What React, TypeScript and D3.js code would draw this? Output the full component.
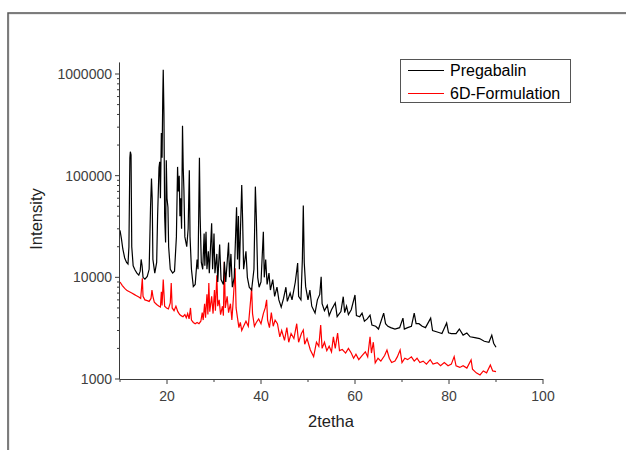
import React from "react";
import * as d3 from "d3";

// Pregabalin pattern: [2theta, intensity]
const pregabalin: [number, number][] = [
  [10.0, 29000], [10.3, 24000], [10.6, 19000], [11.0, 15500], [11.4, 14000], [11.7, 13500],
  [11.9, 20000], [12.1, 150000], [12.2, 172000], [12.35, 160000], [12.5, 20000], [12.8, 13000],
  [13.2, 11800], [13.6, 11000], [14.0, 10500], [14.3, 11500], [14.5, 15000], [14.7, 13000],
  [14.9, 10000], [15.3, 9600], [15.8, 10200], [16.2, 12000], [16.5, 50000], [16.7, 94000],
  [16.85, 60000], [17.0, 15000], [17.4, 11000], [17.8, 14000], [18.0, 40000], [18.3, 120000],
  [18.45, 137000], [18.6, 60000], [18.8, 263000], [18.95, 150000], [19.1, 600000], [19.2, 1100000],
  [19.35, 400000], [19.5, 40000], [19.7, 22000], [19.85, 142000], [20.0, 60000], [20.2, 49000],
  [20.35, 20000], [20.7, 12000], [21.2, 11000], [21.6, 11500], [22.0, 25000], [22.25, 122000],
  [22.4, 70000], [22.6, 100000], [22.75, 40000], [22.9, 60000], [23.1, 30000], [23.3, 310000],
  [23.45, 120000], [23.6, 72000], [23.8, 25000], [24.2, 20000], [24.5, 30000], [24.75, 113000],
  [24.9, 25000], [25.2, 12000], [25.6, 8100], [26.0, 8500], [26.4, 15000], [26.6, 12000],
  [26.9, 150000], [27.05, 40000], [27.3, 14000], [27.6, 12000], [27.9, 27000], [28.05, 13000],
  [28.3, 28000], [28.5, 12000], [28.8, 18000], [29.0, 11000], [29.5, 34000], [29.7, 12000],
  [30.0, 27000], [30.2, 11000], [30.6, 17000], [30.8, 9000], [31.2, 21000], [31.5, 9500],
  [32.0, 8500], [32.2, 14200], [32.5, 9000], [33.1, 22000], [33.3, 10000], [33.6, 17000],
  [33.9, 8000], [34.3, 10000], [34.8, 49000], [35.0, 15000], [35.2, 40000], [35.4, 12000],
  [35.9, 81000], [36.1, 35000], [36.3, 12000], [36.8, 18000], [37.1, 10000], [37.5, 8000],
  [38.0, 7500], [38.5, 12000], [38.8, 78000], [39.0, 40000], [39.3, 10000], [39.6, 8000],
  [40.0, 9000], [40.5, 28000], [40.7, 10000], [41.0, 15000], [41.3, 8500], [41.7, 11000],
  [42.0, 7500], [42.5, 9500], [42.9, 6500], [43.4, 8000], [43.8, 6000], [44.3, 5100],
  [44.8, 6200], [45.3, 8000], [45.6, 5800], [46.2, 7000], [46.6, 6000], [47.3, 9000],
  [47.8, 13800], [48.0, 6500], [48.5, 6000], [48.8, 15000], [49.0, 51000], [49.2, 14000],
  [49.5, 8100], [50.0, 6000], [50.4, 7500], [50.8, 5200], [51.5, 4450], [52.0, 6000],
  [52.5, 6800], [52.8, 10100], [53.0, 5500], [53.5, 4700], [54.1, 5300], [54.5, 4200],
  [55.0, 4800], [55.8, 5600], [56.2, 4100], [57.0, 4600], [57.5, 6450], [57.8, 4500],
  [58.2, 5200], [58.6, 4300], [59.2, 4800], [60.0, 6700], [60.3, 4200], [61.0, 4100],
  [61.5, 4450], [62.0, 3700], [62.6, 3900], [63.2, 4250], [63.6, 3400], [64.4, 3300],
  [65.0, 3100], [66.1, 4450], [66.5, 3500], [67.0, 3300], [67.6, 3200], [68.5, 3100],
  [69.5, 3200], [70.2, 3970], [70.5, 3100], [71.2, 3200], [72.0, 3300], [72.6, 4450],
  [73.0, 3500], [73.6, 3500], [74.3, 3300], [75.0, 3200], [76.1, 3970], [76.5, 3000],
  [77.5, 2900], [78.5, 2800], [79.5, 3550], [79.9, 2850], [80.5, 2800], [81.5, 2800],
  [82.2, 3100], [83.0, 2700], [83.8, 2830], [84.5, 2600], [85.5, 2550], [86.5, 2500],
  [87.5, 2350], [88.5, 2300], [89.1, 2700], [89.5, 2250], [90.0, 2050],
];

// 6D-Formulation pattern: [2theta, intensity]
const formulation: [number, number][] = [
  [10.0, 9000], [10.5, 8300], [11.0, 7800], [11.5, 7400], [12.0, 7200], [12.5, 7000],
  [13.0, 6800], [13.5, 6600], [14.0, 6400], [14.4, 6200], [14.6, 8000], [14.75, 9800],
  [14.9, 6500], [15.3, 6000], [15.8, 5900], [16.2, 5800], [16.6, 6200], [16.8, 7500],
  [17.0, 6500], [17.3, 5700], [17.8, 5400], [18.3, 5200], [18.6, 5100], [18.8, 7200],
  [18.95, 5300], [19.2, 9500], [19.5, 5200], [19.9, 5000], [20.3, 4900], [20.7, 5600],
  [20.9, 8800], [21.1, 5000], [21.5, 4700], [21.9, 5200], [22.3, 4600], [22.7, 4300],
  [23.0, 4200], [23.4, 4100], [23.8, 4300], [24.1, 4000], [24.4, 4400], [24.7, 3900],
  [25.0, 5000], [25.2, 3800], [25.6, 3600], [26.0, 3500], [26.4, 3600], [26.8, 3500],
  [27.2, 3700], [27.5, 4500], [27.7, 3800], [28.0, 5500], [28.2, 4000], [28.5, 6800],
  [28.7, 4300], [28.9, 8800], [29.1, 4600], [29.5, 6500], [29.8, 4400], [30.1, 7500],
  [30.3, 4700], [30.6, 10500], [30.8, 5200], [31.1, 6000], [31.4, 4300], [31.8, 5200],
  [32.0, 4200], [32.2, 14200], [32.4, 5000], [32.8, 6500], [33.1, 4500], [33.5, 5500],
  [33.8, 3800], [34.1, 6000], [34.5, 12300], [34.7, 5000], [35.0, 4000], [35.3, 3200],
  [35.6, 3600], [35.9, 3000], [36.3, 3300], [36.8, 3700], [37.3, 3300], [37.8, 6000],
  [38.0, 7900], [38.2, 4400], [38.6, 3300], [39.0, 3600], [39.5, 3900], [40.0, 3500],
  [40.5, 4400], [40.9, 5000], [41.2, 6000], [41.4, 3800], [41.8, 3200], [42.2, 4500],
  [42.6, 3300], [43.0, 3800], [43.5, 3500], [44.0, 2600], [44.4, 3000], [45.0, 2400],
  [45.5, 3200], [45.9, 2300], [46.4, 2800], [47.0, 2500], [47.6, 3500], [48.0, 2300],
  [48.6, 2800], [49.0, 3030], [49.3, 2200], [49.8, 2500], [50.5, 1930], [51.2, 1660],
  [51.8, 2300], [52.3, 2100], [52.7, 3400], [53.0, 2000], [53.5, 2300], [54.0, 1900],
  [54.5, 2100], [55.0, 1850], [55.4, 2600], [55.8, 2000], [56.3, 2830], [56.7, 1900],
  [57.3, 1950], [58.0, 1800], [58.6, 2000], [59.2, 1800], [59.7, 1600], [60.2, 1750],
  [60.8, 1550], [61.5, 1700], [62.2, 1850], [62.7, 1650], [63.2, 2600], [63.5, 1800],
  [63.9, 2300], [64.3, 1440], [64.9, 1600], [65.5, 1500], [66.3, 1700], [66.8, 1930],
  [67.3, 1600], [67.8, 1450], [68.5, 1500], [69.0, 1650], [69.6, 1930], [70.0, 1450],
  [70.6, 1600], [71.2, 1550], [72.0, 1650], [72.6, 1500], [73.2, 1600], [73.8, 1450],
  [74.5, 1500], [75.2, 1400], [76.0, 1550], [76.6, 1400], [77.5, 1450], [78.2, 1350],
  [79.0, 1450], [79.8, 1350], [80.5, 1400], [81.1, 1660], [81.5, 1350], [82.3, 1300],
  [83.0, 1350], [83.8, 1280], [84.7, 1540], [85.0, 1250], [85.8, 1150], [86.6, 1095],
  [87.3, 1200], [88.0, 1150], [88.8, 1370], [89.3, 1200], [90.0, 1180],
];

const xMajorTicks = [20, 40, 60, 80, 100];
const xMinorTicks = [10, 30, 50, 70, 90];
const yMajorTicks = [1000, 10000, 100000, 1000000];
const yMinorTicks = [2, 3, 4, 5, 6, 7, 8, 9].flatMap((m) => [1000, 10000, 100000, 1000000].map((d) => m * d)).filter((v) => v < 1300000);
const seriesNames = ["Pregabalin", "6D-Formulation"];
const seriesColors = ["#000000", "#ff0000"];

const W = 626;
const H = 450;
const FONT = "'Liberation Sans', Arial, sans-serif";

export default function App() {
  const x = d3.scaleLinear().domain([10, 100]).range([120, 543]);
  const y = d3.scaleLog().domain([1000, 1000000]).range([379, 74]);
  const yTop = y(1300000);
  const line = d3
    .line<[number, number]>()
    .x((d) => x(d[0]))
    .y((d) => y(d[1]));
  const axisColor = "#3a3a3a";
  const x0 = x(10);
  const y0 = y(1000);

  return (
    <svg width={W} height={H} style={{ position: "absolute", left: 0, top: 0, background: "#fff" }}>
      {/* outer frame */}
      <path d={`M8,450 L8,13 L626,13`} fill="none" stroke="#d8d8d8" strokeWidth={1} transform="translate(1,1)" />
      <path d={`M8,450 L8,13 L626,13`} fill="none" stroke="#555" strokeWidth={1.5} />

      {/* series */}
      <path d={line(formulation) || ""} fill="none" stroke={seriesColors[1]} strokeWidth={1.2} />
      <path d={line(pregabalin) || ""} fill="none" stroke={seriesColors[0]} strokeWidth={1.2} />

      {/* x axis */}
      <line x1={x0} x2={x(100)} y1={y0 + 0.5} y2={y0 + 0.5} stroke={axisColor} strokeWidth={1} />
      {xMajorTicks.map((t) => (
        <g key={"xm" + t}>
          <line x1={x(t)} x2={x(t)} y1={y0} y2={y0 + 5} stroke={axisColor} />
          <text x={x(t)} y={401} textAnchor="middle" fontFamily={FONT} fontSize={14} fill="#404040">
            {t}
          </text>
        </g>
      ))}
      {xMinorTicks.map((t) => (
        <line key={"xn" + t} x1={x(t)} x2={x(t)} y1={y0} y2={y0 + 3} stroke={axisColor} />
      ))}

      {/* y axis */}
      <line x1={x0 - 0.5} x2={x0 - 0.5} y1={y0} y2={yTop} stroke={axisColor} strokeWidth={1} />
      {yMajorTicks.map((t) => (
        <g key={"ym" + t}>
          <line x1={x0} x2={x0 - 5} y1={y(t)} y2={y(t)} stroke={axisColor} />
          <text x={112} y={y(t) + 5} textAnchor="end" fontFamily={FONT} fontSize={14} fill="#404040">
            {t}
          </text>
        </g>
      ))}
      {yMinorTicks.map((t) => (
        <line key={"yn" + t} x1={x0} x2={x0 - 3} y1={y(t)} y2={y(t)} stroke={axisColor} />
      ))}

      {/* axis titles */}
      <text x={331} y={427} textAnchor="middle" fontFamily={FONT} fontSize={16.5} fill="#222">
        2tetha
      </text>
      <text
        transform={`translate(42,219) rotate(-90)`}
        textAnchor="middle"
        fontFamily={FONT}
        fontSize={16.5}
        fill="#222"
      >
        Intensity
      </text>

      {/* legend */}
      <rect x={400.5} y={59.5} width={170} height={43} fill="#fff" stroke="#555" strokeWidth={1} />
      {seriesNames.map((name, i) => (
        <g key={name}>
          <line x1={408} x2={444} y1={70.5 + i * 23} y2={70.5 + i * 23} stroke={seriesColors[i]} strokeWidth={1} />
          <text x={450} y={76 + i * 22.5} fontFamily={FONT} fontSize={16} fill="#000">
            {name}
          </text>
        </g>
      ))}
    </svg>
  );
}
